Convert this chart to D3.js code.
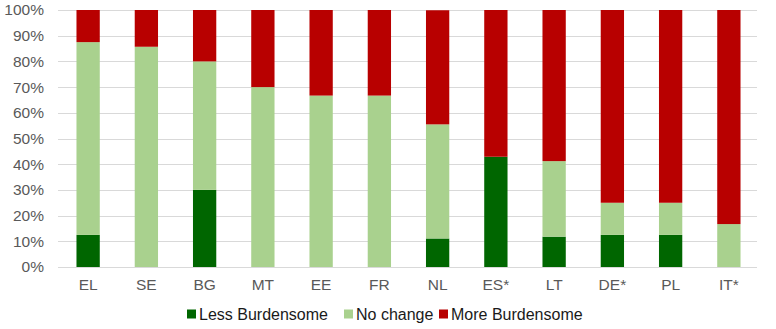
<!DOCTYPE html>
<html><head><meta charset="utf-8">
<script src="https://cdn.jsdelivr.net/npm/d3@7"></script>
<style>body{margin:0;background:#fff;} text{font-family:"Liberation Sans",Arial,sans-serif;}</style>
</head><body><svg id="c" width="776" height="329"></svg>
<script>
const categories = ["EL","SE","BG","MT","EE","FR","NL","ES*","LT","DE*","PL","IT*"];
const lessBurdensome = [12.5,0,30,0,0,0,11.1,42.9,11.8,12.5,12.5,0];
const noChange = [75,85.7,50,70,66.7,66.7,44.4,0,29.4,12.5,12.5,16.7];
const moreBurdensome = [12.5,14.3,20,30,33.3,33.3,44.4,57.1,58.8,75,75,83.3];
const seriesNames = ["Less Burdensome","No change","More Burdensome"];
const yTicks = [0,10,20,30,40,50,60,70,80,90,100];

const colors = ["#006600","#a9d18e","#b80000"];
const svg = d3.select("#c");
const m = {l:58, r:19, t:10, b:62};
const W = 776, H = 329;
const x = d3.scaleBand().domain(categories).range([m.l+1, W-m.r+1]).paddingInner(0.6).paddingOuter(0.3);
const y = d3.scaleLinear().domain([0,100]).range([H-m.b, m.t]);

const data = categories.map((c,i)=>({cat:c, "Less Burdensome":lessBurdensome[i], "No change":noChange[i], "More Burdensome":moreBurdensome[i]}));
const stack = d3.stack().keys(seriesNames)(data);

// grid
svg.append("g").selectAll("line").data(yTicks).join("line")
  .attr("x1", m.l).attr("x2", W-m.r)
  .attr("y1", d=>Math.round(y(d))+0.5).attr("y2", d=>Math.round(y(d))+0.5)
  .attr("stroke","#d9d9d9").attr("stroke-width",1);

// bars
svg.append("g").selectAll("g").data(stack).join("g")
  .attr("fill",(d,i)=>colors[i])
  .selectAll("rect").data(d=>d).join("rect")
  .attr("x", d=>x(d.data.cat))
  .attr("width", x.bandwidth())
  .attr("y", d=>y(d[1]))
  .attr("height", d=>Math.max(0,y(d[0])-y(d[1])));

// y axis labels
const ya = svg.append("g").attr("transform",`translate(${m.l-14},0)`)
  .call(d3.axisLeft(y).tickValues(yTicks).tickFormat(d=>d+"%").tickSize(0).tickPadding(0));
ya.select(".domain").remove();
ya.selectAll("text").attr("font-size",15.5).attr("fill","#595959").attr("font-family","Liberation Sans, Arial, sans-serif");

// x axis labels
const xa = svg.append("g").attr("transform",`translate(0,${H-m.b})`)
  .call(d3.axisBottom(x).tickSize(0).tickPadding(12));
xa.select(".domain").remove();
xa.selectAll("text").attr("font-size",15.5).attr("fill","#595959").attr("font-family","Liberation Sans, Arial, sans-serif");

// legend
const leg = svg.append("g");
const legX = [187, 344, 439];
seriesNames.forEach((s,i)=>{
  const g = leg.append("g").attr("transform",`translate(${legX[i]},314)`);
  g.append("rect").attr("x",0).attr("y",-4.5).attr("width",9).attr("height",9).attr("fill",colors[i]);
  g.append("text").attr("x",12).attr("y",0).attr("dy","0.35em").attr("font-size",16).attr("fill","#1a1a1a").text(s);
});
</script></body></html>
